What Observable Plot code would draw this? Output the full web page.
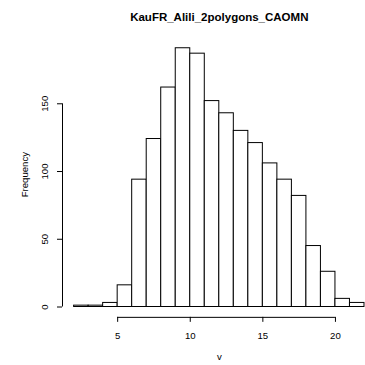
<!DOCTYPE html>
<html>
<head>
<meta charset="utf-8">
<script src="https://cdn.jsdelivr.net/npm/d3@7"></script>
<script src="https://cdn.jsdelivr.net/npm/@observablehq/plot@0.6"></script>
<style>
  html, body { margin: 0; padding: 0; background: #fff; }
  #chart { width: 365px; height: 365px; overflow: hidden; }
  #chart svg { overflow: hidden; }
</style>
</head>
<body>
<div id="chart"></div>
<script>
const title = "KauFR_Alili_2polygons_CAOMN";
const xLabel = "v";
const yLabel = "Frequency";
const binStart = [2, 3, 4, 5, 6, 7, 8, 9, 10, 11, 12, 13, 14, 15, 16, 17, 18, 19, 20, 21];
const binEnd   = [3, 4, 5, 6, 7, 8, 9, 10, 11, 12, 13, 14, 15, 16, 17, 18, 19, 20, 21, 22];
const counts   = [1, 1, 3, 16, 94, 124, 162, 191, 187, 152, 143, 130, 121, 106, 94, 82, 45, 26, 6, 3];
const xTicks = [5, 10, 15, 20];
const yTicks = [0, 50, 100, 150];

const bins = binStart.map((s, i) => ({x1: s, x2: binEnd[i], n: counts[i]}));
const xDomain = [1.2, 22.8];
const yDomain = [-7.64, 198.64];
const font = "'Liberation Sans', Arial, Helvetica, sans-serif";

const chart = Plot.plot({
  width: 365,
  height: 365,
  marginLeft: 62,
  marginRight: -10.6,
  marginTop: 37.4,
  marginBottom: 48.15,
  style: {fontFamily: font, fontSize: "9.6px", color: "#000", background: "#fff", overflow: "hidden"},
  x: {domain: xDomain},
  y: {domain: yDomain},
  marks: [
    Plot.rect(bins, {x1: "x1", x2: "x2", y1: 0, y2: "n", fill: "white", stroke: "black", strokeWidth: 1}),
    Plot.ruleX([xDomain[0]], {y1: yTicks[0], y2: yTicks[yTicks.length - 1], stroke: "black"}),
    Plot.ruleY([yDomain[0]], {x1: xTicks[0], x2: xTicks[xTicks.length - 1], stroke: "black"}),
    Plot.axisX({ticks: xTicks, tickSize: 5, tickFormat: () => "", label: null, stroke: "black"}),
    Plot.axisY({ticks: yTicks, tickSize: 5, tickFormat: () => "", label: null, stroke: "black"}),
    Plot.text(xTicks, {x: d => d, frameAnchor: "bottom", dy: 21.7, lineAnchor: "bottom", text: d => String(d), fill: "black", fontSize: 9.6}),
    Plot.text(yTicks, {y: d => d, frameAnchor: "left", dx: -14.3, rotate: -90, textAnchor: "middle", lineAnchor: "bottom", text: d => String(d), fill: "black", fontSize: 9.6}),
    Plot.text([title], {frameAnchor: "top", dy: -16.9, lineAnchor: "bottom", text: d => d, fontWeight: "bold", fontSize: 11.5, fill: "black"}),
    Plot.text([xLabel], {frameAnchor: "bottom", dy: 43, lineAnchor: "bottom", text: d => d, fontSize: 9.6, fill: "black"}),
    Plot.text([yLabel], {frameAnchor: "left", dx: -35, dy: -3, rotate: -90, textAnchor: "middle", lineAnchor: "bottom", text: d => d, fontSize: 9.6, fill: "black"})
  ]
});
document.getElementById("chart").appendChild(chart);
</script>
</body>
</html>
